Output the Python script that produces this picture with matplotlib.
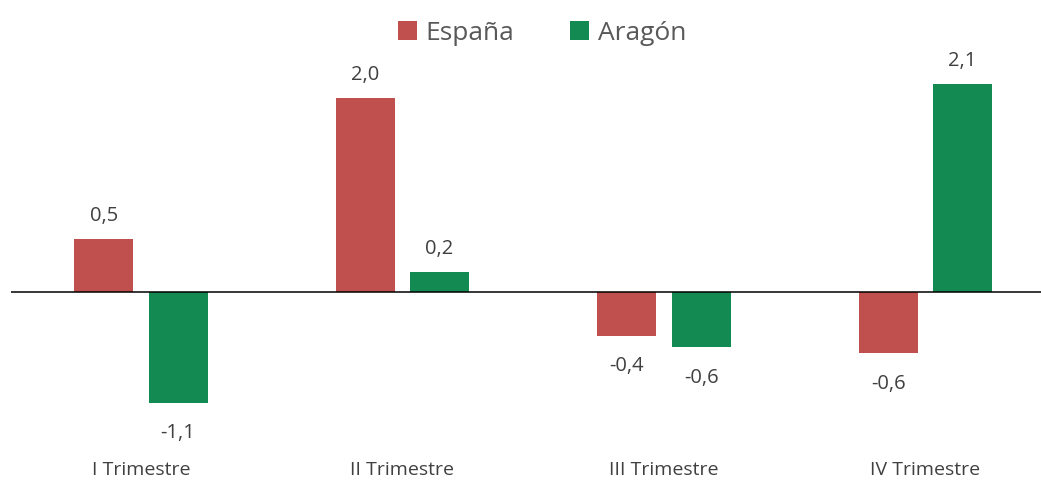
import matplotlib
matplotlib.use("Agg")
import matplotlib.pyplot as plt
from matplotlib.patches import Patch
import matplotlib.transforms as mtransforms
import numpy as np

categories = ["I Trimestre", "II Trimestre", "III Trimestre", "IV Trimestre"]
series_names = ["España", "Aragón"]
espana = [0.54, 1.96, -0.44, -0.62]
aragon = [-1.12, 0.20, -0.56, 2.10]

colors = ["#C0504D", "#138A51"]
text_color = "#404040"
plt.rcParams['font.family'] = ['Open Sans', 'DejaVu Sans']

W, H = 1041, 480
fig = plt.figure(figsize=(W / 100, H / 100), dpi=100)
ax = fig.add_axes([11 / W, 45 / H, (W - 11) / W, (H - 45) / H])

x = np.arange(len(categories))
bw = 0.226
off = 0.142
for vals, dx, c, name in [(espana, -off, colors[0], series_names[0]),
                          (aragon, off, colors[1], series_names[1])]:
    bars = ax.bar(x + dx, vals, width=bw, color=c, label=name, zorder=2)
    for b, v in zip(bars, vals):
        lab = f"{v:.1f}".replace(".", ",")
        if v >= 0:
            ax.annotate(lab, (b.get_x() + b.get_width() / 2, v), xytext=(0, 16.5),
                        textcoords="offset points", ha="center", va="center",
                        fontsize=14.5, color=text_color)
        else:
            ax.annotate(lab, (b.get_x() + b.get_width() / 2, v), xytext=(0, -22),
                        textcoords="offset points", ha="center", va="center",
                        fontsize=14.5, color=text_color)

ax.axhline(0, color="black", lw=1.1, zorder=3)
ax.set_xlim(-0.497, 3.442)
ax.set_ylim(-(435 - 292) / 98.9, 292 / 98.9)
for s in ax.spines.values():
    s.set_visible(False)
ax.set_xticks([])
ax.set_yticks([])

trans = mtransforms.blended_transform_factory(ax.transData, fig.transFigure)
for xi, cat in zip(x, categories):
    ax.text(xi, (H - 470) / H, cat, transform=trans, ha="center", va="center",
            fontsize=14, color=text_color)

handles = [Patch(facecolor=colors[0]), Patch(facecolor=colors[1])]
fig.legend(handles, series_names, loc="center", bbox_to_anchor=(542 / W, (H - 33) / H),
           ncol=2, frameon=False, fontsize=19, handlelength=0.72, handleheight=0.72,
           handletextpad=0.34, columnspacing=2.1, labelcolor="#595959")

fig.savefig("out.png", dpi=100)
